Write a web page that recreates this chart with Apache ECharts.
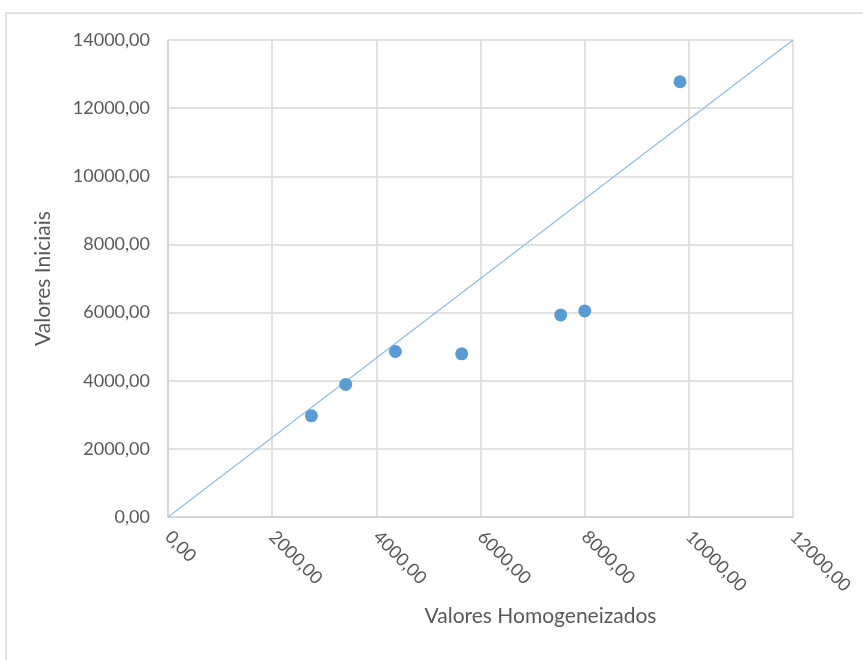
<!DOCTYPE html>
<html>
<head>
<meta charset="utf-8">
<script src="https://cdn.jsdelivr.net/npm/echarts@6/dist/echarts.min.js"></script>
<style>
  html, body { margin: 0; padding: 0; background: #fff; }
  #chart { width: 863px; height: 660px; }
</style>
</head>
<body>
<div id="chart"></div>
<script>
// valores
var homogeneizados = [2753, 3412, 4366, 5639, 7540, 8001, 9831];
var iniciais = [2970, 3891, 4858, 4788, 5931, 6049, 12775];
var linhaX = [0, 12000];
var linhaY = [0, 14000];

var pontos = [];
for (var i = 0; i < homogeneizados.length; i++) {
  pontos.push([homogeneizados[i], iniciais[i]]);
}
var linha = [[linhaX[0], linhaY[0]], [linhaX[1], linhaY[1]]];

function fmt(v) {
  return v.toFixed(2).replace('.', ',');
}

var cinza = '#595959';
var fonte = 'Lato, "Open Sans", sans-serif';

var myChart = echarts.init(document.getElementById('chart'));
var option = {
  animation: false,
  graphic: [{
    type: 'rect',
    shape: { x: 6, y: 13, width: 900, height: 700 },
    style: { fill: 'none', stroke: '#d9d9d9', lineWidth: 1.5 },
    silent: true
  }],
  grid: { left: 168, top: 40, right: 70, bottom: 143 },
  xAxis: {
    type: 'value',
    min: 0, max: 12000, interval: 2000,
    name: 'Valores Homogeneizados',
    nameLocation: 'middle',
    nameGap: 89,
    nameTextStyle: { color: cinza, fontSize: 21, fontFamily: fonte, padding: [0, 0, 0, 120] },
    axisLine: { show: true, lineStyle: { color: '#d0d0d0', width: 1.5 } },
    axisTick: { show: false },
    splitLine: { lineStyle: { color: '#d9d9d9', width: 1.5 } },
    axisLabel: {
      rotate: -45, margin: 17,
      color: cinza, fontSize: 18, fontFamily: fonte,
      formatter: fmt
    }
  },
  yAxis: {
    type: 'value',
    min: 0, max: 14000, interval: 2000,
    name: 'Valores Iniciais',
    nameLocation: 'middle',
    nameGap: 114,
    nameTextStyle: { color: cinza, fontSize: 21, fontFamily: fonte },
    axisLine: { show: true, lineStyle: { color: '#d0d0d0', width: 1.5 } },
    axisTick: { show: false },
    splitLine: { lineStyle: { color: '#d9d9d9', width: 1.5 } },
    axisLabel: {
      margin: 18,
      color: cinza, fontSize: 18, fontFamily: fonte,
      formatter: fmt
    }
  },
  series: [{
    type: 'line',
    data: linha,
    showSymbol: false,
    lineStyle: { color: '#8fbde6', width: 1.2 },
    z: 2
  }, {
    type: 'scatter',
    data: pontos,
    symbolSize: 13,
    itemStyle: { color: '#5b9bd5', opacity: 1 },
    z: 3
  }]
};
myChart.setOption(option);
</script>
</body>
</html>
